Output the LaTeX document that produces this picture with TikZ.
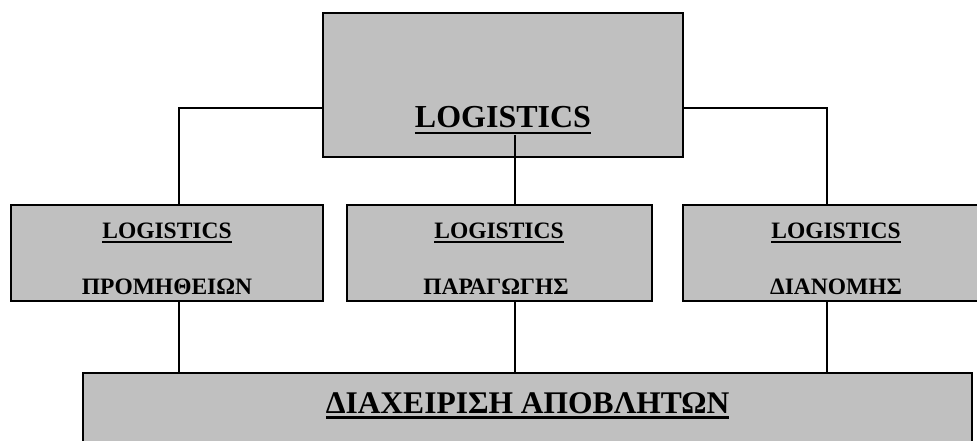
\documentclass[tikz,border=0pt]{standalone}
\usepackage{fontspec}
\setmainfont{Liberation Serif}
\usepackage{xcolor}
\usepackage{tikz}
\usetikzlibrary{positioning,calc}
\definecolor{cBox}{HTML}{C0C0C0}
\newcommand{\ulword}[1]{\setbox0\hbox{#1}\rlap{\rule[-0.2em]{\wd0}{0.09em}}\box0}
\tikzset{
  box/.style   ={draw, fill=cBox, line width=1.6pt, inner sep=0pt},
  bigtxt/.style={anchor=base, inner sep=0pt, font=\bfseries\fontsize{32}{36}\selectfont},
  subtxt/.style={anchor=base, inner sep=0pt, font=\bfseries\fontsize{23.5}{26}\selectfont},
  wastxt/.style={anchor=base, inner sep=0pt, font=\bfseries\fontsize{31.5}{34}\selectfont},
  link/.style  ={line width=1.2pt, draw=black},
}
\begin{document}
\begin{tikzpicture}[x=1pt, y=-1pt]
    \useasboundingbox (0,0) rectangle (977,441);
    \clip (0,0) rectangle (977,441);
    \node[box, minimum width=360pt, minimum height=144pt] (top)   at (503,85)    {};
    \node[box, minimum width=312pt, minimum height=96pt]  (prom)  at (167,253)   {};
    \node[box, minimum width=305pt, minimum height=96pt]  (parag) at (499.5,253) {};
    \node[box, minimum width=306pt, minimum height=96pt]  (dian)  at (836,253)   {};
    \node[box, minimum width=889pt, minimum height=100pt] (waste) at (527.5,423) {};
    \node[bigtxt] (topL) at (503,128) {\ulword{LOGISTICS}};
    \node[subtxt] (promL)  at (167,238) {\ulword{LOGISTICS}};
    \node[subtxt] (parL)   at (499,238) {\ulword{LOGISTICS}};
    \node[subtxt] (dianL)  at (836,238) {\ulword{LOGISTICS}};
    \node[subtxt] (promG)  at (167,294) {ΠΡΟΜΗΘΕΙΩΝ};
    \node[subtxt] (parG)   at (496,294) {ΠΑΡΑΓΩΓΗΣ};
    \node[subtxt] (dianG)  at (836,294) {ΔΙΑΝΟΜΗΣ};
    \node[wastxt] (wasteL) at (527.5,413) {\ulword{ΔΙΑΧΕΙΡΙΣΗ ΑΠΟΒΛΗΤΩΝ}};
    \coordinate (j1) at (179,108);
    \coordinate (j2) at (515,135);
    \coordinate (j3) at (827,108);
    \draw[link](top.west |- j1) -| (prom.north -| j1);
    \draw[link](j2) -- (parag.north -| j2);
    \draw[link](top.east |- j3) -| (dian.north -| j3);
    \draw[link](prom.south -| j1) -- (waste.north -| j1);
    \draw[link](parag.south -| j2) -- (waste.north -| j2);
    \draw[link](dian.south -| j3) -- (waste.north -| j3);
  \end{tikzpicture}
\end{document}
